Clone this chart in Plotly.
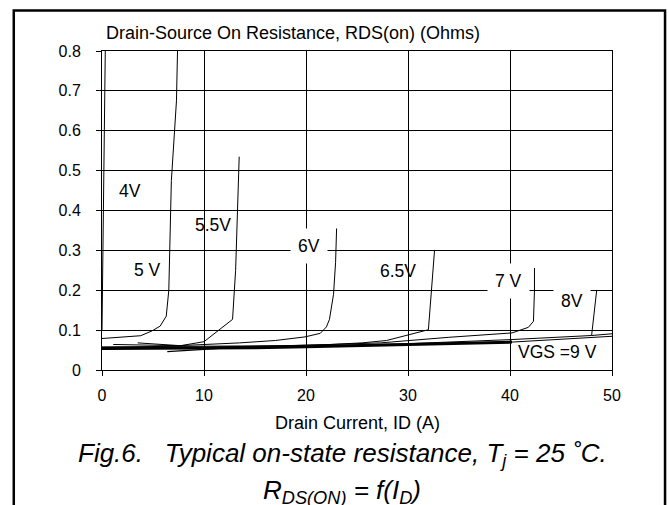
import plotly.graph_objects as go

# ---- data (ID in A, RDS(on) in Ohms) ----
i_4v = [0.0, 0.1, 0.2, 0.33]
r_4v = [0.100, 0.32, 0.54, 0.82]

i_5v = [0.0, 3.8, 4.9, 5.7, 6.3, 6.55, 6.8, 7.05, 7.3, 7.42]
r_5v = [0.079, 0.086, 0.098, 0.110, 0.135, 0.200, 0.475, 0.575, 0.675, 0.82]

i_55v = [3.5, 7.7, 10.0, 12.8, 13.1, 13.3, 13.45]
r_55v = [0.068, 0.061, 0.071, 0.127, 0.250, 0.400, 0.535]

i_6v = [1.1, 7.5, 13.5, 17.0, 19.9, 21.4, 22.0, 22.3, 22.7, 22.9, 23.0]
r_6v = [0.064, 0.061, 0.068, 0.074, 0.083, 0.092, 0.108, 0.127, 0.190, 0.270, 0.355]

i_65v = [0.0, 10.0, 18.0, 22.4, 25.5, 27.9, 32.0, 32.3, 32.6]
r_65v = [0.058, 0.059, 0.061, 0.064, 0.068, 0.074, 0.101, 0.200, 0.300]

i_7v = [0.0, 10.0, 20.0, 27.3, 34.0, 40.2, 41.8, 42.3, 42.4, 42.4]
r_7v = [0.056, 0.057, 0.062, 0.068, 0.082, 0.093, 0.107, 0.122, 0.200, 0.256]

i_8v = [0.0, 10.0, 20.0, 30.0, 40.2, 48.0, 48.5]
r_8v = [0.053, 0.056, 0.060, 0.066, 0.0764, 0.0865, 0.200]

i_9v = [0.0, 10.0, 15.0, 20.0, 27.3, 33.0, 37.0, 40.2]
r_9v = [0.054, 0.055, 0.056, 0.058, 0.062, 0.066, 0.069, 0.070]

# thin low-current branch and continuations towards 50 A
i_low = [6.4, 9.0, 12.0]
r_low = [0.046, 0.051, 0.055]
i_ext_a = [40.2, 50.3]
r_ext_a = [0.070, 0.085]
i_ext_b = [48.0, 50.3]
r_ext_b = [0.0865, 0.0915]

x_ticks = [0, 10, 20, 30, 40, 50]
y_ticks = [0, 0.1, 0.2, 0.3, 0.4, 0.5, 0.6, 0.7, 0.8]

# curve labels: (text, x, y, white box)
labels = [
    ("4V", 2.7, 0.45, False),
    ("5 V", 4.45, 0.25, False),
    ("5.5V", 10.9, 0.364, False),
    ("6V", 20.3, 0.31, True),
    ("6.5V", 29.05, 0.249, False),
    ("7 V", 39.9, 0.224, True),
    ("8V", 46.1, 0.172, True),
    ("VGS =9 V", 44.7, 0.045, False),
]

FONT = "Liberation Sans, Arial, sans-serif"

fig = go.Figure()
series = [
    (i_4v, r_4v, 1), (i_5v, r_5v, 1), (i_55v, r_55v, 1), (i_6v, r_6v, 1),
    (i_65v, r_65v, 1), (i_7v, r_7v, 1), (i_8v, r_8v, 1), (i_9v, r_9v, 3),
    (i_low, r_low, 1.2), (i_ext_a, r_ext_a, 1), (i_ext_b, r_ext_b, 1),
]
for xs, ys, w in series:
    fig.add_trace(go.Scatter(x=xs, y=ys, mode="lines",
                             line=dict(color="black", width=w),
                             showlegend=False, hoverinfo="skip"))

for txt, lx, ly, box in labels:
    fig.add_annotation(x=lx, y=ly, xref="x", yref="y", text=txt, showarrow=False,
                       font=dict(family=FONT, size=17.5, color="black"),
                       bgcolor="white" if box else None, borderpad=7 if box else 0)

# titles and caption
fig.add_annotation(x=0.3745, y=1.055, xref="paper", yref="paper",
                   text="Drain-Source On Resistance, RDS(on) (Ohms)", showarrow=False,
                   xanchor="center", yanchor="middle",
                   font=dict(family=FONT, size=18, color="black"))
fig.add_annotation(x=0.5, y=-0.167, xref="paper", yref="paper",
                   text="Drain Current, ID (A)", showarrow=False,
                   xanchor="center", yanchor="middle",
                   font=dict(family=FONT, size=18, color="black"))
fig.add_annotation(x=0.4706, y=-0.266, xref="paper", yref="paper",
                   text="<i>Fig.6.&nbsp;&nbsp;&nbsp;Typical on-state resistance, T<sub>j</sub> = 25 ˚C.</i>",
                   showarrow=False, xanchor="center", yanchor="middle",
                   font=dict(family=FONT, size=26, color="black"))
fig.add_annotation(x=0.4706, y=-0.382, xref="paper", yref="paper",
                   text="<i>R<sub>DS(ON)</sub> = f(I<sub>D</sub>)</i>",
                   showarrow=False, xanchor="center", yanchor="middle",
                   font=dict(family=FONT, size=26, color="black"))

# outer frame
fig.add_shape(type="rect", xref="paper", yref="paper",
              x0=-0.173, x1=1.104, y0=-0.5, y1=1.127,
              line=dict(color="black", width=2.5), fillcolor="rgba(0,0,0,0)")

axis_common = dict(showgrid=True, gridcolor="black", gridwidth=1,
                   showline=True, linecolor="black", linewidth=1, mirror=True,
                   ticks="outside", ticklen=5, tickcolor="black", zeroline=False,
                   tickfont=dict(family=FONT, size=16, color="black"))
fig.update_xaxes(range=[0, 50], tickvals=x_ticks, ticktext=[str(v) for v in x_ticks],
                 ticklabelstandoff=6, **axis_common)
fig.update_yaxes(range=[0, 0.8], tickvals=y_ticks, ticktext=[f"{v:g}" for v in y_ticks],
                 ticklabelstandoff=12, **axis_common)

fig.update_layout(width=669, height=505, margin=dict(l=102, r=57, t=51, b=134.5),
                  plot_bgcolor="white", paper_bgcolor="white",
                  font=dict(family=FONT, color="black"))

fig.write_html("out.html", config={"displayModeBar": False, "staticPlot": True},
               post_script="document.body.style.margin='0';document.body.style.overflow='hidden';")
